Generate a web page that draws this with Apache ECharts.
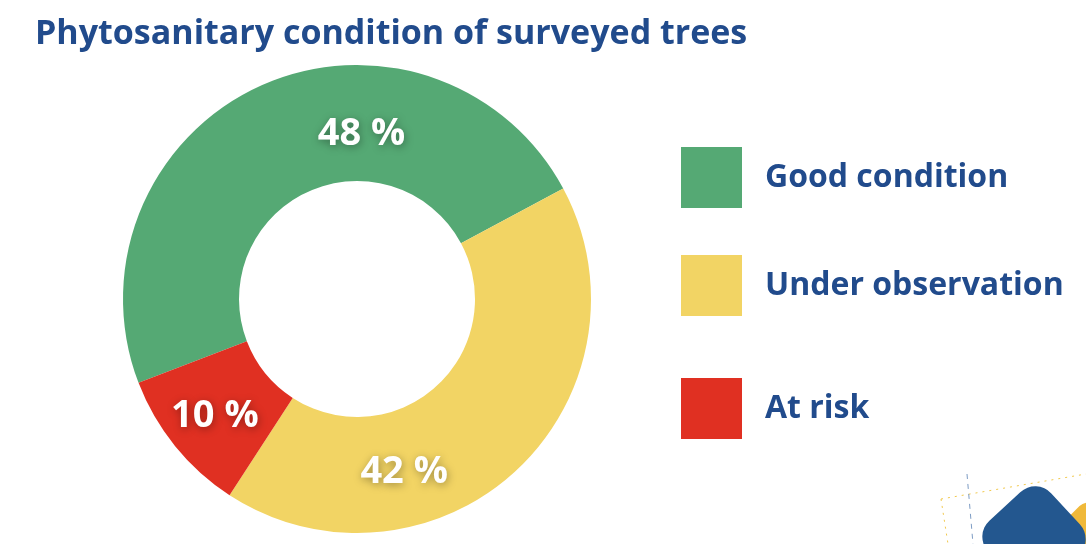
<!DOCTYPE html>
<html>
<head>
<meta charset="utf-8">
<script src="https://cdn.jsdelivr.net/npm/echarts@6/dist/echarts.min.js"></script>
<style>
  html, body { margin: 0; padding: 0; background: #fff; }
  #main { width: 1086px; height: 544px; }
</style>
</head>
<body>
<div id="main"></div>
<script>
// 数据
var categories = ['Good condition', 'Under observation', 'At risk'];
var values = [48, 42, 10];
var colors = ['#55a974', '#f2d464', '#e03022'];
// label offsets from the default inside position
var labelOffsets = [[79, -2], [-74, 41], [-3, 5]];
var legendTops = [147, 255, 378];

var blue = '#214b8c';
var font = '"Open Sans"';

function buildData() {
    var result = [];
    for (var i = 0; i < categories.length; i++) {
        result.push({
            name: categories[i],
            value: values[i],
            itemStyle: { color: colors[i] },
            label: { offset: labelOffsets[i] }
        });
    }
    return result;
}

// 每个图例单独一个组件，间距不均匀
function buildLegends() {
    return categories.map(function (name, i) {
        return {
            data: [name],
            left: 681,
            top: legendTops[i],
            padding: 0,
            icon: 'rect',
            itemWidth: 61,
            itemHeight: 61,
            selectedMode: false,
            textStyle: {
                color: blue,
                fontSize: 32,
                fontWeight: 'bold',
                fontFamily: font,
                padding: [4, 0, 0, 18]
            }
        };
    });
}

var myChart = echarts.init(document.getElementById('main'), null, { renderer: 'canvas' });

var options = {
    backgroundColor: '#fff',
    animation: false,
    title: {
        text: 'Phytosanitary condition of surveyed trees',
        left: 30,
        top: 12,
        textStyle: {
            color: blue,
            fontSize: 34,
            fontWeight: 'bold',
            fontFamily: font
        }
    },
    legend: buildLegends(),
    series: [
        {
            type: 'pie',
            radius: [118, 234],
            center: [357, 299],
            startAngle: 201,
            clockwise: true,
            avoidLabelOverlap: false,
            data: buildData(),
            label: {
                show: true,
                position: 'inside',
                formatter: '{c} %',
                color: '#fff',
                fontSize: 38,
                fontWeight: 'bold',
                fontFamily: font,
                textShadowColor: 'rgba(0,0,0,0.35)',
                textShadowBlur: 8,
                textShadowOffsetX: 1,
                textShadowOffsetY: 2
            },
            labelLine: { show: false },
            emphasis: { disabled: true }
        }
    ],
    // 右下角装饰
    graphic: [
        {
            type: 'polyline',
            shape: { points: [[941, 499], [1086, 474]] },
            style: { stroke: '#f2c94c', lineWidth: 1, lineDash: [2, 5], fill: null }
        },
        {
            type: 'polyline',
            shape: { points: [[941, 499], [948, 544]] },
            style: { stroke: '#f2c94c', lineWidth: 1, lineDash: [2, 5], fill: null }
        },
        {
            type: 'polyline',
            shape: { points: [[967, 474], [973, 544]] },
            style: { stroke: '#7d9cc4', lineWidth: 1, lineDash: [5, 5], fill: null }
        },
        {
            type: 'rect',
            x: 1088, y: 540,
            rotation: Math.PI / 4,
            shape: { x: -30, y: -30, width: 60, height: 60, r: 12 },
            style: { fill: '#f0b93a' }
        },
        {
            type: 'rect',
            x: 1034, y: 538,
            rotation: Math.PI / 4 * 0.95,
            shape: { x: -43, y: -43, width: 86, height: 86, r: 22 },
            style: { fill: '#23578f' }
        }
    ]
};

myChart.setOption(options);
</script>
</body>
</html>
